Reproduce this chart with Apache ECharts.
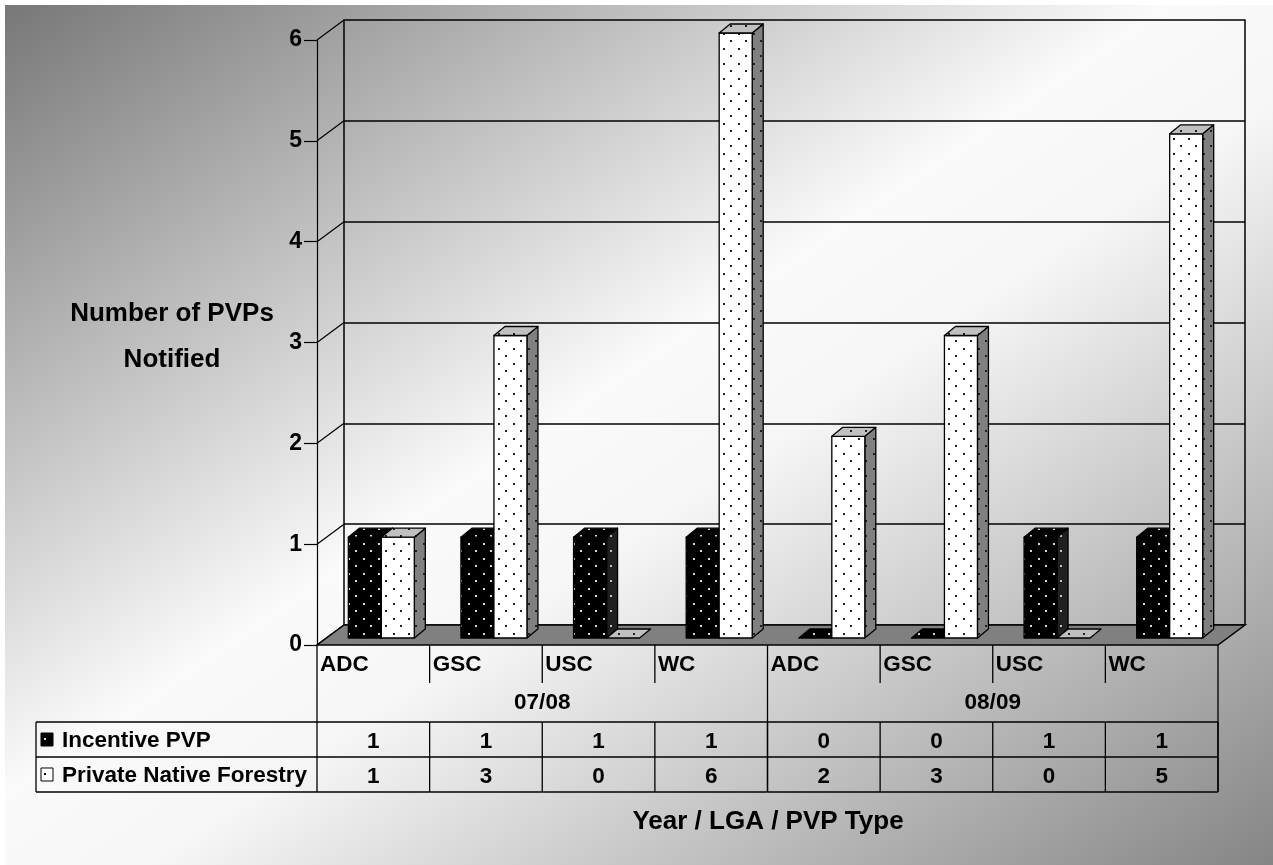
<!DOCTYPE html>
<html>
<head>
<meta charset="utf-8">
<title>Number of PVPs Notified</title>
<script src="https://cdn.jsdelivr.net/npm/echarts@6/dist/echarts.min.js"></script>
<style>
  html, body { margin: 0; padding: 0; background: #fff; }
  #chart { width: 1273px; height: 865px; }
</style>
</head>
<body>
<div id="chart"></div>
<script>
// ---- data ----
const lgas = ['ADC', 'GSC', 'USC', 'WC', 'ADC', 'GSC', 'USC', 'WC'];
const years = ['07/08', '08/09'];
const yearOfCategory = [0, 0, 0, 0, 1, 1, 1, 1];
const seriesNames = ['Incentive PVP', 'Private Native Forestry'];
const incentivePVP = [1, 1, 1, 1, 0, 0, 1, 1];
const privateNativeForestry = [1, 3, 0, 6, 2, 3, 0, 5];
const yTicks = [0, 1, 2, 3, 4, 5, 6];
const yTitle = 'Number of PVPs\nNotified';
const xTitle = 'Year / LGA / PVP Type';

// ---- styling helpers ----
const FONT = "'Liberation Sans', Arial, sans-serif";
const TABLE_FONT = 'bold 22.5px ' + FONT;
const TITLE_FONT = 'bold 26px ' + FONT;
const DEPTH = { x: 27, y: -20 };      // depth of the 3-D floor / side wall
const BAR_SHIFT = { x: 8, y: -7 };    // bars stand part way into the floor
const BAR_DEPTH = { x: 11, y: -9 };   // depth of each bar

function dotPattern(bg, dot) {
  const cv = document.createElement('canvas');
  cv.width = 15; cv.height = 15;
  const g = cv.getContext('2d');
  g.fillStyle = bg; g.fillRect(0, 0, 15, 15);
  g.fillStyle = dot;
  g.fillRect(3, 3, 2, 2);
  g.fillRect(10, 10, 2, 2);
  return { image: cv, repeat: 'repeat' };
}

const barStyles = [
  { front: dotPattern('#000000', '#d8d8d8'), top: dotPattern('#000000', '#d8d8d8'), side: dotPattern('#202020', '#c0c0c0') },
  { front: dotPattern('#ffffff', '#202020'), top: dotPattern('#c0c0c0', '#202020'), side: dotPattern('#808080', '#202020') }
];

function barRenderer(seriesIdx) {
  return function (params, api) {
    const i = api.value(0);
    const v = api.value(1);
    const band = api.size([1, 0])[0];
    const w = band * 0.293;
    const c = api.coord([i, v]);
    const b = api.coord([i, 0]);
    const left = seriesIdx === 0 ? c[0] + BAR_SHIFT.x - w : c[0] + BAR_SHIFT.x;
    const top = c[1] + BAR_SHIFT.y;
    const bottom = b[1] + BAR_SHIFT.y;
    const st = barStyles[seriesIdx];
    const stroke = { stroke: '#000', lineWidth: 1.3, lineJoin: 'round' };
    const dx = BAR_DEPTH.x, dy = BAR_DEPTH.y;
    const children = [];
    if (bottom - top > 0.5) {
      children.push({
        type: 'polygon',
        shape: { points: [[left + w, top], [left + w + dx, top + dy], [left + w + dx, bottom + dy], [left + w, bottom]] },
        style: Object.assign({ fill: st.side }, stroke)
      });
      children.push({
        type: 'rect',
        shape: { x: left, y: top, width: w, height: bottom - top },
        style: Object.assign({ fill: st.front }, stroke)
      });
    }
    children.push({
      type: 'polygon',
      shape: { points: [[left, top], [left + dx, top + dy], [left + w + dx, top + dy], [left + w, top]] },
      style: Object.assign({ fill: st.top }, stroke)
    });
    return { type: 'group', children: children };
  };
}

// side wall: diagonals joining the front axis ticks with the back wall
function sideWallRenderer(params, api) {
  const cs = params.coordSys;
  const y = api.coord([0, api.value(1)])[1];
  return {
    type: 'line',
    shape: { x1: cs.x, y1: y, x2: cs.x + DEPTH.x, y2: y + DEPTH.y },
    style: { stroke: '#000', lineWidth: 1.2 }
  };
}

// floor of the plot
function floorRenderer(params, api) {
  const cs = params.coordSys;
  const y = api.coord([0, 0])[1];
  const x0 = cs.x, x1 = cs.x + cs.width;
  return {
    type: 'polygon',
    shape: { points: [[x0, y], [x1, y], [x1 + DEPTH.x, y + DEPTH.y], [x0 + DEPTH.x, y + DEPTH.y]] },
    style: { fill: '#808080', stroke: '#000', lineWidth: 1.5 }
  };
}

// data table under the plot
const ROW = { label: 20, divider: 38, group: 58, top: 77, mid: 112, bottom: 147 };
const boldText = (x, y, text, align) => ({
  type: 'text',
  style: { x: x, y: y, text: text, fill: '#000', font: TABLE_FONT, align: align || 'center', verticalAlign: 'middle' }
});
const hline = (x1, x2, y) => ({ type: 'line', shape: { x1: x1, y1: y, x2: x2, y2: y }, style: { stroke: '#000', lineWidth: 1.3 } });
const vline = (x, y1, y2) => ({ type: 'line', shape: { x1: x, y1: y1, x2: x, y2: y2 }, style: { stroke: '#000', lineWidth: 1.3 } });

function tableRenderer(params, api) {
  const i = api.value(0);
  const band = api.size([1, 0])[0];
  const c = api.coord([i, 0]);
  const base = c[1];
  const L = c[0] - band / 2, R = c[0] + band / 2;
  const kids = [];
  kids.push(boldText(L + 3, base + ROW.label, lgas[i], 'left'));
  const lastOfYear = i === lgas.length - 1 || yearOfCategory[i + 1] !== yearOfCategory[i];
  kids.push(vline(R, base, lastOfYear ? base + ROW.bottom : base + ROW.divider));
  kids.push(vline(R, base + ROW.top, base + ROW.bottom));
  kids.push(hline(L, R, base + ROW.top));
  kids.push(hline(L, R, base + ROW.mid));
  kids.push(hline(L, R, base + ROW.bottom));
  kids.push(boldText(c[0], base + (ROW.top + ROW.mid) / 2 + 2, String(incentivePVP[i])));
  kids.push(boldText(c[0], base + (ROW.mid + ROW.bottom) / 2 + 2, String(privateNativeForestry[i])));
  const firstOfYear = i === 0 || yearOfCategory[i - 1] !== yearOfCategory[i];
  if (firstOfYear) {
    let j = i;
    while (j + 1 < lgas.length && yearOfCategory[j + 1] === yearOfCategory[i]) j++;
    const gx = (api.coord([i, 0])[0] + api.coord([j, 0])[0]) / 2;
    kids.push(boldText(gx, base + ROW.group, years[yearOfCategory[i]]));
  }
  if (i === 0) {
    const lx = 36;
    kids.push(vline(L, base, base + ROW.bottom));
    kids.push(hline(lx, L, base + ROW.top));
    kids.push(hline(lx, L, base + ROW.mid));
    kids.push(hline(lx, L, base + ROW.bottom));
    kids.push(vline(lx, base + ROW.top, base + ROW.bottom));
    const keys = [['#000', '#ddd'], ['#fff', '#000']];
    const rowsY = [base + ROW.top, base + ROW.mid];
    for (let k = 0; k < 2; k++) {
      const ky = rowsY[k] + 11;
      kids.push({ type: 'rect', shape: { x: 41, y: ky, width: 12, height: 13 }, style: { fill: keys[k][0], stroke: '#000', lineWidth: 1 } });
      kids.push({ type: 'rect', shape: { x: 44, y: ky + 5, width: 2, height: 2 }, style: { fill: keys[k][1] } });
      kids.push(boldText(62, rowsY[k] + 19, seriesNames[k], 'left'));
    }
  }
  return { type: 'group', children: kids };
}

const chart = echarts.init(document.getElementById('chart'), null, { renderer: 'canvas' });
const catIdx = lgas.map((_, i) => i);

chart.setOption({
  animation: false,
  backgroundColor: '#ffffff',
  graphic: {
    elements: [
      {
        type: 'rect', z: -10, silent: true,
        shape: { x: 5, y: 5, width: 1268, height: 860 },
        style: {
          fill: new echarts.graphic.LinearGradient(0, 0, 804, 1184, [
            { offset: 0, color: '#767676' },
            { offset: 0.46, color: '#fafafa' },
            { offset: 0.56, color: '#f6f6f6' },
            { offset: 1, color: '#858585' }
          ], true)
        }
      },
      {
        type: 'text', z: 5, silent: true,
        style: { x: 172, y: 337, text: yTitle, font: TITLE_FONT, fill: '#000', align: 'center', verticalAlign: 'middle', lineHeight: 46 }
      },
      {
        type: 'text', z: 5, silent: true,
        style: { x: 768, y: 822, text: xTitle, font: TITLE_FONT, fill: '#000', align: 'center', verticalAlign: 'middle' }
      }
    ]
  },
  grid: [
    { left: 317, right: 55, top: 40, bottom: 220 },   // front plane
    { left: 344, right: 28, top: 20, bottom: 240 }    // back wall
  ],
  xAxis: [
    { type: 'category', gridIndex: 0, data: lgas, boundaryGap: true, show: false },
    { type: 'category', gridIndex: 1, data: lgas, boundaryGap: true, show: false }
  ],
  yAxis: [
    {
      type: 'value', gridIndex: 0, min: 0, max: 6, interval: 1,
      axisLine: { show: true, lineStyle: { color: '#000', width: 1.2 } },
      axisTick: { show: true, inside: false, length: 13, lineStyle: { color: '#000', width: 1.2 } },
      axisLabel: { color: '#000', fontSize: 23, fontWeight: 'bold', fontFamily: FONT, margin: 15 },
      splitLine: { show: false }
    },
    {
      type: 'value', gridIndex: 1, min: 0, max: 6, interval: 1,
      axisLine: { show: true, lineStyle: { color: '#000', width: 1.5 } },
      axisTick: { show: false }, axisLabel: { show: false },
      splitLine: { show: true, lineStyle: { color: '#000', width: 1.5 } }
    },
    {
      type: 'value', gridIndex: 1, min: 0, max: 6, interval: 1, position: 'right',
      axisLine: { show: true, lineStyle: { color: '#000', width: 1.5 } },
      axisTick: { show: false }, axisLabel: { show: false }, splitLine: { show: false }
    }
  ],
  series: [
    {
      type: 'custom', name: 'side wall', xAxisIndex: 0, yAxisIndex: 0, z: 1, silent: true,
      renderItem: sideWallRenderer,
      data: yTicks.map(v => [0, v])
    },
    {
      type: 'custom', name: 'floor', xAxisIndex: 0, yAxisIndex: 0, z: 2, silent: true,
      renderItem: floorRenderer,
      data: [[0, 0]]
    },
    {
      type: 'custom', name: seriesNames[0], xAxisIndex: 0, yAxisIndex: 0, z: 3,
      renderItem: barRenderer(0),
      data: catIdx.map(i => [i, incentivePVP[i]])
    },
    {
      type: 'custom', name: seriesNames[1], xAxisIndex: 0, yAxisIndex: 0, z: 4,
      renderItem: barRenderer(1),
      data: catIdx.map(i => [i, privateNativeForestry[i]])
    },
    {
      type: 'custom', name: 'data table', xAxisIndex: 0, yAxisIndex: 0, z: 5, silent: true,
      renderItem: tableRenderer,
      data: catIdx.map(i => [i, 0])
    }
  ]
});
</script>
</body>
</html>
